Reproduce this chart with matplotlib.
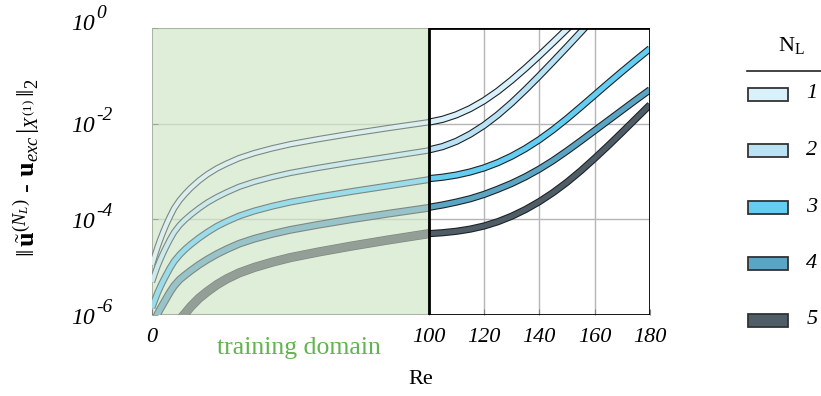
import matplotlib.pyplot as plt
import numpy as np
from matplotlib.patches import Rectangle
from matplotlib.ticker import NullLocator
from matplotlib.transforms import offset_copy

plt.rcParams['font.family'] = 'Liberation Serif'
plt.rcParams['mathtext.fontset'] = 'custom'
plt.rcParams['mathtext.rm'] = 'Liberation Serif'
plt.rcParams['mathtext.it'] = 'Liberation Serif:italic'
plt.rcParams['mathtext.bf'] = 'Liberation Serif:bold'

# log10 of the error on the training range (Re 0..100)
re_train = [0, 1, 2, 3, 4, 5, 6.5, 8, 10, 12, 14, 17, 20, 23.5, 27, 31.5, 37, 43.5, 50, 60, 72, 85, 100]
re_train_5 = [10, 12, 14, 17, 20, 23.5, 27, 31.5, 37, 43.5, 50, 60, 72, 85, 100]
err_train_1 = [-4.95, -4.76, -4.58, -4.42, -4.27, -4.13, -3.94, -3.77, -3.6, -3.465, -3.345, -3.19,
               -3.06, -2.935, -2.835, -2.72, -2.615, -2.515, -2.43, -2.325, -2.21, -2.095, -1.97]
err_train_2 = [-5.31, -5.14, -4.98, -4.84, -4.71, -4.59, -4.42, -4.27, -4.12, -4.005, -3.905, -3.77,
               -3.65, -3.535, -3.435, -3.32, -3.215, -3.115, -3.03, -2.925, -2.81, -2.695, -2.56]
err_train_3 = [-5.85, -5.69, -5.54, -5.41, -5.29, -5.18, -5.02, -4.88, -4.74, -4.625, -4.525, -4.39,
               -4.27, -4.145, -4.045, -3.93, -3.825, -3.725, -3.64, -3.535, -3.42, -3.305, -3.17]
err_train_4 = [-6.25, -6.11, -5.98, -5.87, -5.77, -5.67, -5.52, -5.39, -5.26, -5.165, -5.075, -4.95,
               -4.84, -4.725, -4.625, -4.51, -4.405, -4.305, -4.22, -4.115, -4.0, -3.885, -3.76]
err_train_5 = [-6.1, -5.965, -5.825, -5.65, -5.51, -5.365, -5.245, -5.12, -5.005, -4.895, -4.8, -4.685,
               -4.56, -4.435, -4.3]

# log10 of the error beyond the training range (Re 100..180)
re_ext = [100, 105, 110, 115, 120, 125, 130, 135, 140, 145, 150, 155, 160, 165, 170, 175, 180]
err_ext_1 = [-1.97, -1.91, -1.815, -1.685, -1.52, -1.32, -1.09, -0.84, -0.575, -0.3, -0.02, 0.26]
err_ext_2 = [-2.55, -2.48, -2.37, -2.22, -2.035, -1.815, -1.565, -1.29, -1.0, -0.7, -0.395, -0.085, 0.23]
err_ext_3 = [-3.15, -3.12, -3.075, -3.01, -2.925, -2.815, -2.68, -2.52, -2.335, -2.125, -1.895, -1.65,
             -1.4, -1.15, -0.905, -0.665, -0.43]
err_ext_4 = [-3.75, -3.7, -3.64, -3.57, -3.48, -3.37, -3.25, -3.11, -2.95, -2.77, -2.57, -2.36, -2.145,
             -1.93, -1.715, -1.5, -1.29]
err_ext_5 = [-4.3, -4.28, -4.25, -4.205, -4.14, -4.05, -3.935, -3.795, -3.63, -3.44, -3.225, -2.985,
             -2.725, -2.455, -2.175, -1.89, -1.605]

n_layers = ['1', '2', '3', '4', '5']
colors = ['#d9f1fb', '#b9e3f5', '#63cdf2', '#5aa5c3', '#4f5d66']
colors_train = ['#dcefee', '#cce9ec', '#9adcea', '#98c4c9', '#939e97']
ytick_exp = ['-6', '-4', '-2', '0']

train = [(re_train, err_train_1), (re_train, err_train_2), (re_train, err_train_3),
         (re_train, err_train_4), (re_train_5, err_train_5)]
ext = [err_ext_1, err_ext_2, err_ext_3, err_ext_4, err_ext_5]

fig = plt.figure(figsize=(8.21, 3.96), dpi=100)
ax = fig.add_axes([152 / 821, 1 - 315 / 396, 498 / 821, 287 / 396])
ax.set_yscale('log')
ax.set_xlim(0, 180)
ax.set_ylim(1e-6, 1)
for s in ax.spines.values():
    s.set_visible(False)

# training domain and extrapolation box
ax.axvspan(0, 100, facecolor='#dfeed9', edgecolor='#a9b6a4', lw=1.5, zorder=0)
ax.hlines([1e-4, 1e-2], 0, 100, color='#c8d6c3', lw=1, zorder=1)
ax.hlines([1e-4, 1e-2], 100, 180, color='#b5b5b5', lw=1, zorder=1)
ax.vlines([120, 140, 160], 1e-6, 1, color='#b5b5b5', lw=1, zorder=1)

w_out = [4.6, 4.6, 5.0, 5.6, 6.6]
w_in = [3.0, 3.0, 3.4, 4.0, 5.6]
style = dict(solid_capstyle='butt', solid_joinstyle='round', zorder=2)
for i in range(5):
    x, y = train[i]
    y = 10 ** np.array(y)
    ax.plot(x, y, color='#7e8882', lw=w_out[i], **style)
    ax.plot(x, y, color=colors_train[i], lw=w_in[i], **style)
    y = 10 ** np.array(ext[i])
    x = re_ext[:len(y)]
    ax.plot(x, y, color='#1e2326', lw=5.2, **style)
    ax.plot(x, y, color=colors[i], lw=3.6, **style)

ax.axvspan(100, 180, fill=False, edgecolor='black', lw=2, zorder=3)

ax.set_xticks([0, 100, 120, 140, 160, 180])
ax.set_xticklabels(['0', '100', '120', '140', '160', '180'], fontstyle='italic', fontsize=16)
ax.set_yticks([1e-6, 1e-4, 1e-2, 1])
ax.set_yticklabels([])
ax.yaxis.set_minor_locator(NullLocator())
ax.tick_params(axis='x', direction='in', length=4, color='#808080', pad=9)
ax.tick_params(axis='y', direction='in', length=4, color='#9aa896')

# 10^k labels with a large superscript
ytr = ax.get_yaxis_transform()
for val, ex in zip([1e-6, 1e-4, 1e-2, 1], ytick_exp):
    dy = 4 if ex == '0' else -3
    ax.text(0, val, '10', transform=offset_copy(ytr, fig=fig, x=-57, y=dy, units='dots'),
            fontsize=17, fontstyle='italic', ha='right', va='center')
    ax.text(0, val, ex, transform=offset_copy(ytr, fig=fig, x=-56, y=dy + 11, units='dots'),
            fontsize=14, fontstyle='italic', ha='left', va='center')

fig.text(299 / 821, 1 - 348 / 396, 'training domain', color='#62b450', fontsize=18.5,
         ha='center', va='center')
fig.text(421 / 821, 1 - 380 / 396, 'Re', fontsize=16, ha='center', va='center')
fig.text(27 / 821, 1 - 168 / 396,
         r'$\|\,\tilde{\mathbf{u}}^{(N_L)}$ - $\mathbf{u}_{exc}\,|_{X^{(1)}}\,\|_2$',
         fontsize=19, rotation=90, ha='center', va='center')

# legend
lax = fig.add_axes([0, 0, 1, 1])
lax.set_xlim(0, 821)
lax.set_ylim(396, 0)
lax.axis('off')
lax.text(791, 46, r'N$_\mathrm{L}$', fontsize=16, ha='center', va='center')
lax.plot([747, 821], [71, 71], color='#222222', lw=1.2)
for i, lab in enumerate(n_layers):
    yc = 94 + i * 56.5
    lax.add_patch(Rectangle((748, yc - 6.5), 40, 13, facecolor=colors[i],
                            edgecolor='#333333', lw=1.3))
    lax.text(812, yc, lab, fontsize=16, fontstyle='italic', ha='center', va='center')

fig.savefig('out.png', dpi=100)
